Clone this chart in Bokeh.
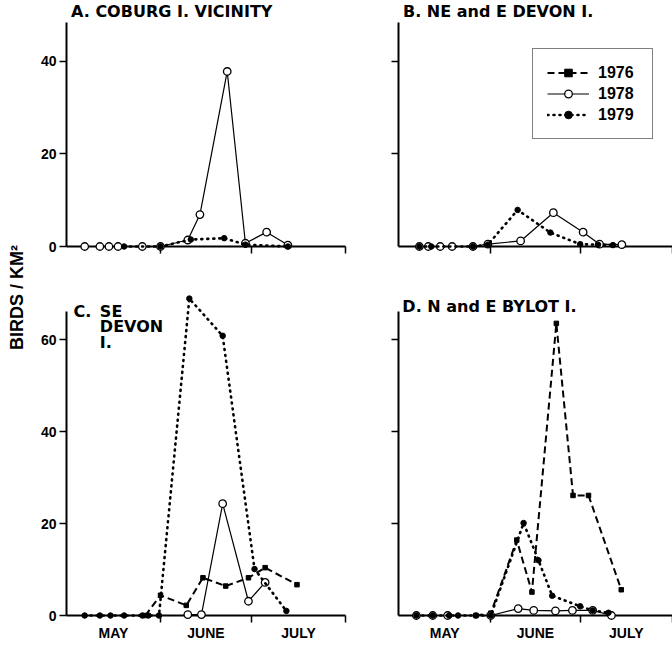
import math
from bokeh.plotting import figure
from bokeh.models import FixedTicker, Label, Legend, LegendItem, Range1d
from bokeh.layouts import row, column
from bokeh.embed import file_html
from bokeh.resources import INLINE

# ---------------- data (x = days since 1 May) ----------------
MONTH_LABEL_POS = [15.5, 46, 76.5]
MONTH_LABELS = ["MAY", "JUNE", "JULY"]
MONTH_BOUNDS = [31, 61, 92]

# A. Coburg I. vicinity
a78_x = [6, 11, 14, 17, 25, 31, 40, 44, 53, 59, 66, 73]
a78_y = [0, 0, 0, 0, 0, 0, 1.4, 6.9, 37.8, 0.7, 3.1, 0.3]
a79_x = [19, 31, 41, 52, 59, 73]
a79_y = [0, 0, 1.5, 1.8, 0.4, 0]

# B. NE and E Devon I.
b78_x = [7, 10, 14, 18, 25, 30, 41, 52, 62, 67.5, 75]
b78_y = [0, 0, 0, 0, 0, 0.5, 1.2, 7.3, 3.1, 0.5, 0.4]
b79_x = [7, 11, 25, 30, 40, 51, 61, 67, 72]
b79_y = [0, 0, 0, 0.4, 7.9, 3.0, 0.5, 0.4, 0.3]

# C. SE Devon I.
c76_x = [26, 31, 39.5, 45, 52.5, 60, 65.5, 76]
c76_y = [0, 4.4, 2.2, 8.2, 6.4, 8.2, 10.4, 6.7]
c78_x = [40, 44.5, 51.5, 60, 65.5]
c78_y = [0.2, 0.2, 24.3, 3.1, 7.2]
c79_x = [6, 11, 14.5, 19, 25, 27, 30.5, 40.5, 51.5, 62, 72.5]
c79_y = [0, 0, 0, 0, 0, 0, 0, 68.9, 60.8, 10.1, 1.0]

# D. N and E Bylot I.
d76_x = [26, 31, 39.7, 44.8, 53, 58.6, 63.8, 74.8]
d76_y = [0, 0.5, 16.4, 5.1, 63.5, 26.1, 26.1, 5.6]
d78_x = [6, 11.5, 16.5, 31, 40.2, 45.4, 52.7, 58.4, 65.2, 71.5]
d78_y = [0, 0, 0, 0, 1.5, 1.1, 1.0, 1.1, 1.1, 0]
d79_x = [6, 11.5, 17, 20, 26, 31, 42, 47, 51.6, 61, 65.2, 70.5]
d79_y = [0, 0, 0, 0, 0, 0, 20.1, 12, 4.3, 2.0, 1.1, 0.6]

TOP_TICKS = [0, 20, 40]
BOT_TICKS = [0, 20, 40, 60]
SERIES_NAMES = ["1976", "1978", "1979"]

TICK_FONT = "Liberation Sans"
TITLE_FONT = "DejaVu Sans"


def panel(width, height, ml, mr, mt, mb, xend, yend, ybound, yticks, show_ylabels, show_xlabels):
    p = figure(width=width, height=height, x_range=Range1d(0, xend), y_range=Range1d(0, yend),
               output_backend="svg", toolbar_location=None, title=None,
               min_border_left=ml, min_border_right=mr, min_border_top=mt, min_border_bottom=mb,
               outline_line_color=None, background_fill_color="white", border_fill_color="white")
    p.grid.visible = False
    # x axis: month boundaries as minor ticks, month names at mid-month
    xa = p.xaxis[0]
    xa.ticker = FixedTicker(ticks=MONTH_LABEL_POS, minor_ticks=MONTH_BOUNDS)
    if show_xlabels:
        xa.major_label_overrides = {t: l for t, l in zip(MONTH_LABEL_POS, MONTH_LABELS)}
    else:
        xa.major_label_overrides = {t: "" for t in MONTH_LABEL_POS}
    xa.major_tick_out = 0
    xa.major_tick_in = 0
    xa.minor_tick_out = 7
    xa.minor_tick_in = 0
    xa.minor_tick_line_width = 1.5
    xa.axis_line_width = 2
    xa.major_label_standoff = 2
    xa.major_label_text_font = TICK_FONT
    xa.major_label_text_font_style = "bold"
    xa.major_label_text_font_size = "14px"
    xa.major_label_text_color = "black"
    # y axis
    ya = p.yaxis[0]
    ya.ticker = FixedTicker(ticks=yticks, minor_ticks=[])
    if show_ylabels:
        ya.major_label_overrides = {t: str(t) for t in yticks}
    else:
        ya.major_label_overrides = {t: "" for t in yticks}
    ya.bounds = (0, ybound)
    ya.major_tick_out = 7
    ya.major_tick_in = 0
    ya.major_tick_line_width = 1.5
    ya.minor_tick_out = 0
    ya.minor_tick_in = 0
    ya.axis_line_width = 2
    ya.major_label_standoff = 3
    ya.major_label_text_font = TICK_FONT
    ya.major_label_text_font_style = "bold"
    ya.major_label_text_font_size = "14px"
    ya.major_label_text_color = "black"
    return p


def draw(p, xs, ys, kind):
    if kind == "1976":
        r1 = p.line(xs, ys, line_color="black", line_width=2, line_dash="7 4", level="overlay")
        r2 = p.scatter(xs, ys, marker="square", size=4.5, fill_color="black", line_color="black",
                       level="overlay")
    elif kind == "1978":
        r1 = p.line(xs, ys, line_color="black", line_width=1.2, level="overlay")
        r2 = p.scatter(xs, ys, marker="circle", size=7.5, fill_color="white", line_color="black",
                       line_width=1.3, level="overlay")
    else:
        r1 = p.line(xs, ys, line_color="black", line_width=2.6, line_dash="1 5", line_cap="round",
                    level="overlay")
        r2 = p.scatter(xs, ys, marker="circle", size=5.5, fill_color="black", line_color="black",
                       level="overlay")
    return [r1, r2]


def title(p, x, y, text, size="16px"):
    p.add_layout(Label(x=x, y=y, text=text, text_font=TITLE_FONT, text_font_size=size,
                       text_font_style="bold", text_align="left", text_baseline="top",
                       text_color="black"))


# --- panel geometry ---
YW = 30
LW, RW = 335, 307
TOP_H, BOT_H = 290, 355
TOP_YEND = 246 / 4.63
BOT_YEND = 325 / 4.6

pA = panel(LW, TOP_H, 36, 20, 0, 44, 92, TOP_YEND, 48.3, TOP_TICKS, True, False)
pB = panel(RW, TOP_H, 28, 0, 0, 44, 92, TOP_YEND, 48.3, [20, 40], False, False)
pC = panel(LW, BOT_H, 36, 20, 0, 30, 92, BOT_YEND, 66, BOT_TICKS, True, True)
pD = panel(RW, BOT_H, 33, 0, 0, 30, 92, BOT_YEND, 66, [20, 40, 60], False, True)

draw(pA, a78_x, a78_y, "1978")
draw(pA, a79_x, a79_y, "1979")

rb78 = draw(pB, b78_x, b78_y, "1978")
rb79 = draw(pB, b79_x, b79_y, "1979")
# legend sample for 1976 (no 1976 survey in panel B): renderer with a single missing point
rb76 = draw(pB, [float("nan")], [float("nan")], "1976")

draw(pC, c76_x, c76_y, "1976")
draw(pC, c78_x, c78_y, "1978")
draw(pC, c79_x, c79_y, "1979")

draw(pD, d76_x, d76_y, "1976")
draw(pD, d78_x, d78_y, "1978")
draw(pD, d79_x, d79_y, "1979")

legend = Legend(items=[LegendItem(label=SERIES_NAMES[0], renderers=rb76),
                       LegendItem(label=SERIES_NAMES[1], renderers=rb78),
                       LegendItem(label=SERIES_NAMES[2], renderers=rb79)],
                location=(134, 107), orientation="vertical",
                border_line_color="black", border_line_width=1.5,
                background_fill_color="white", background_fill_alpha=1,
                padding=14, spacing=2, margin=0, glyph_width=42, glyph_height=19,
                label_standoff=9, label_width=40, label_text_font=TICK_FONT,
                label_text_font_style="bold", label_text_font_size="16px",
                label_text_color="black", label_height=19)
pB.add_layout(legend, "center")

title(pA, 1.5, 52.9, "A. COBURG I. VICINITY")
title(pB, 1.5, 52.9, "B. NE and E DEVON I.")
title(pC, 2.3, 68.2, "C.")
title(pC, 11.0, 68.2, "SE")
title(pC, 11.0, 64.9, "DEVON")
title(pC, 11.0, 61.5, "I.")
title(pD, 1.3, 69.3, "D. N and E BYLOT I.")

# y-axis title shared by both rows
pY = figure(width=YW, height=TOP_H + BOT_H, x_range=Range1d(0, YW), y_range=Range1d(0, TOP_H + BOT_H),
            output_backend="svg", toolbar_location=None, title=None, x_axis_type=None, y_axis_type=None,
            min_border_left=0, min_border_right=0, min_border_top=0, min_border_bottom=0,
            outline_line_color=None)
pY.grid.visible = False
pY.add_layout(Label(x=16, y=TOP_H + BOT_H - 297, text="BIRDS / KM²", angle=math.pi / 2,
                    text_align="center", text_baseline="middle", text_font=TICK_FONT,
                    text_font_style="bold", text_font_size="18px", text_color="black"))

layout = row(pY, column(pA, pC), column(pB, pD))
open("out.html", "w").write(file_html(layout, INLINE))
